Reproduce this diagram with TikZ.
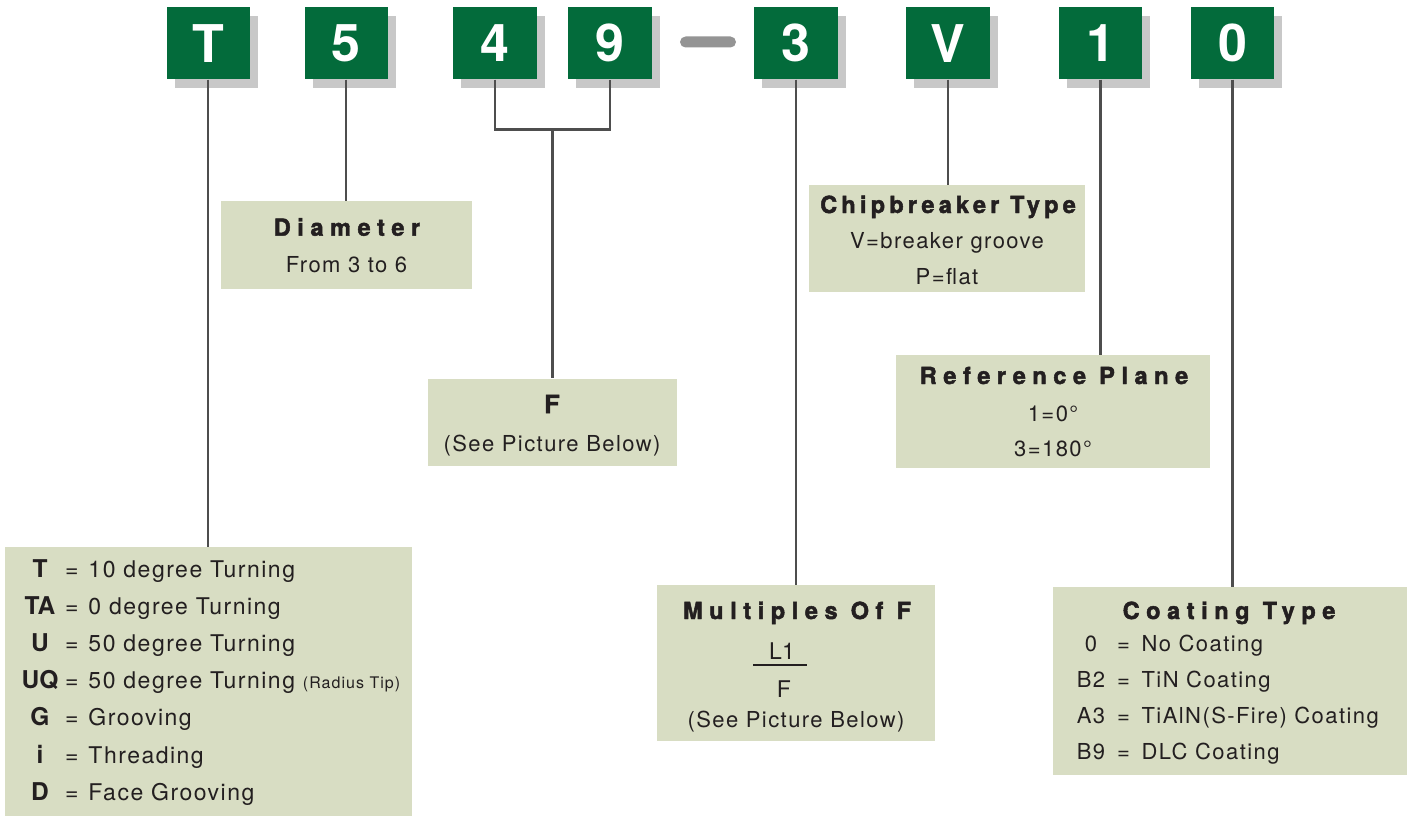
\documentclass[tikz,border=0pt]{standalone}
\usepackage{fontspec}
\setmainfont{TeX Gyre Heros}
\newfontfamily\spacedfam[LetterSpace=6.5]{TeX Gyre Heros}
\newfontfamily\headfam[LetterSpace=28, BoldFeatures={FakeBold=2}]{TeX Gyre Heros}
\newfontfamily\chipfam[LetterSpace=18, BoldFeatures={FakeBold=2}]{TeX Gyre Heros}
\usepackage{xcolor}

\definecolor{keygreen}{RGB}{3,107,59}
\definecolor{shadowgray}{RGB}{200,200,200}
\definecolor{dashgray}{RGB}{148,148,148}
\definecolor{boxfill}{RGB}{216,221,195}
\definecolor{linegray}{RGB}{78,78,78}
\definecolor{textdark}{RGB}{35,31,32}

\newcommand{\keyfont}{\fontsize{52}{60}\selectfont\bfseries}
\newcommand{\headfont}{\headfam\bfseries\fontsize{23.5}{28}\selectfont}
\newcommand{\bodyfont}{\spacedfam\fontsize{22}{26}\selectfont}
\newcommand{\listfont}{\spacedfam\fontsize{23}{27}\selectfont}
\newcommand{\codefont}{\fontsize{24.5}{28}\selectfont\bfseries}

\tikzset{
  keybox/.style = {fill=keygreen, text=white, minimum width=83.5pt, minimum height=72pt, inner sep=0pt, font=\keyfont},
  infobox/.style = {fill=boxfill, inner sep=0pt, anchor=north west},
  heading/.style = {anchor=base, text=textdark, inner sep=0pt, font=\headfont},
  plain/.style = {anchor=base, text=textdark, inner sep=0pt, font=\bodyfont},
  code/.style = {anchor=base, text=textdark, inner sep=0pt, font=\codefont},
  conn/.style = {draw=linegray, line width=2.3pt},
}

\begin{document}
\begin{tikzpicture}[x=1pt, y=-1pt]
    \useasboundingbox (0,0) rectangle (1418,816);

    % code letters along the top
    \foreach \name/\x/\ch in {tT/208.3/T, t5/346.3/5, t4/495/4, t9/610/9, t3/796/3, tV/948/V, t1/1100.5/1, t0/1232.5/0} {
        \fill[shadowgray] (\x-33.75,16.3) rectangle (\x+49.75,88.3);
        \node[keybox] (\name) at (\x,43.3) {\ch};
    }
    \node[fill=dashgray, rounded corners=5.5pt, minimum width=56pt, minimum height=11pt, inner sep=0pt] (dash) at (708,42) {};

    % explanation boxes
    \node[infobox, minimum width=406.7pt, minimum height=269pt] (turn) at (5,547) {};
    \node[infobox, minimum width=250.5pt, minimum height=87.5pt] (diam) at (221,201) {};
    \node[infobox, minimum width=249.4pt, minimum height=87.4pt] (fbox) at (427.3,378.3) {};
    \node[infobox, minimum width=278.3pt, minimum height=155.7pt] (multi) at (656.7,585) {};
    \node[infobox, minimum width=276pt, minimum height=106.7pt] (chip) at (809,185) {};
    \node[infobox, minimum width=314pt, minimum height=112.3pt] (refp) at (896,355) {};
    \node[infobox, minimum width=354.4pt, minimum height=188.3pt] (coat) at (1052.3,586.7) {};

    % connectors
    \draw[conn] (tT.south) -- (tT.south |- turn.north);
    \draw[conn] (t5.south) -- (t5.south |- diam.north);
    \draw[conn] (t4.south) -- ([yshift=-50pt]t4.south) -- coordinate[midway] (fork) ([yshift=-50pt]t9.south) -- (t9.south);
    \draw[conn] (fork) -- (fork |- fbox.north);
    \draw[conn] (t3.south) -- (t3.south |- multi.north);
    \draw[conn] (tV.south) -- (tV.south |- chip.north);
    \draw[conn] (t1.south) -- (t1.south |- refp.north);
    \draw[conn] (t0.south) -- (t0.south |- coat.north);

    % diameter
    \node[heading] (diamhead) at (347,235.7) {Diameter};
    \node[plain] (diamtext) at (346.5,272.7) {From 3 to 6};

    % F
    \node[heading, font=\headfam\bfseries\fontsize{25}{30}\selectfont] (fhead) at (552,413) {F};
    \node[plain] (ftext) at (552,451.7) {(See Picture Below)};

    % multiples of F
    \node[heading] (multihead) at (797,619) {Multiples Of F};
    \node[anchor=base, text=textdark, inner sep=0pt, font=\fontsize{23}{27}\selectfont] (lone) at (782,659) {L1};
    \node[anchor=base, text=textdark, inner sep=0pt, font=\fontsize{23}{27}\selectfont] (fden) at (784,697) {F};
    \draw[textdark, line width=2pt] (753,665) -- (807,665);
    \node[plain] (multitext) at (796,727.7) {(See Picture Below)};

    % chipbreaker
    \node[heading, font=\chipfam\bfseries\fontsize{23.5}{28}\selectfont] (chiphead) at (948,213) {Chipbreaker Type};
    \node[plain] (chipv) at (947,248) {V=breaker groove};
    \node[plain] (chipp) at (947,284) {P=flat};

    % reference plane
    \node[heading] (refhead) at (1054,384) {Reference Plane};
    \node[plain] (refone) at (1053,421.7) {1=0°};
    \node[plain] (refthree) at (1053,456.7) {3=180°};

    % turning types
    \foreach \c/\d [count=\i] in {T/{10 degree Turning}, TA/{0 degree Turning}, U/{50 degree Turning},
        UQ/{50 degree Turning {\fontsize{16}{19}\selectfont(Radius Tip)}}, G/Grooving, i/Threading, D/{Face Grooving}} {
        \node[code] (tc\i) at (40,577+37.2*\i-37.2) {\c};
        \node[plain, font=\listfont, anchor=base west] (td\i) at (65,577+37.2*\i-37.2) {=\hspace{2pt} \d};
    }

    % coating
    \node[heading] (coathead) at (1229,619) {Coating Type};
    \foreach \c/\d [count=\i] in {0/{No Coating}, B2/{TiN Coating}, A3/{TiAlN(S-Fire) Coating}, B9/{DLC Coating}} {
        \node[plain] (cc\i) at (1091,651+36.3*\i-36.3) {\c};
        \node[plain, anchor=base west] (cd\i) at (1117,651+36.3*\i-36.3) {=\hspace{4pt} \d};
    }
\end{tikzpicture}
\end{document}
